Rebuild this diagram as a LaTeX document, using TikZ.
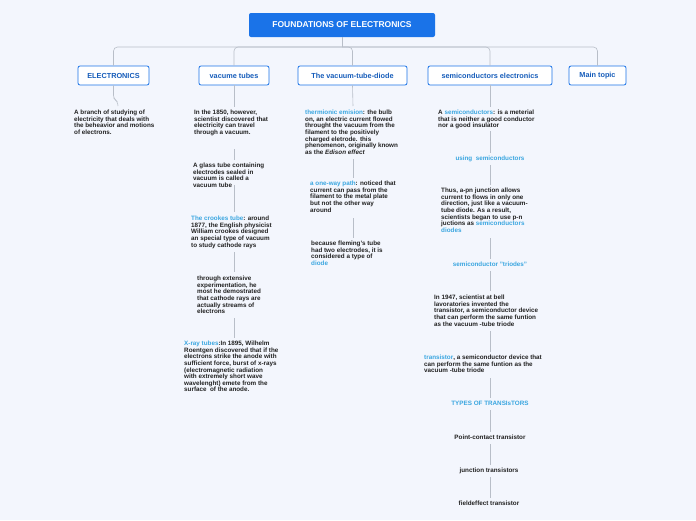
\documentclass[tikz,border=0pt]{standalone}
\usepackage{fontspec}
\setmainfont{Liberation Sans}[BoldFont={Liberation Sans Bold},ItalicFont={Liberation Sans Italic},BoldItalicFont={Liberation Sans Bold Italic}]
\definecolor{bg}{HTML}{F3F6FD}
\definecolor{mblue}{HTML}{1A73E8}
\definecolor{lblue}{HTML}{3AA6E0}
\definecolor{lgray}{HTML}{B8BEC8}
\definecolor{txt}{HTML}{222222}
\begin{document}
\begin{tikzpicture}[x=1pt,y=-1pt,
  top/.style={draw=mblue,fill=white,rounded corners=2pt,line width=0.8pt,minimum height=19pt,font=\fontsize{7.3}{7}\selectfont\bfseries,text=mblue!80!black,inner sep=0pt},
  t/.style={anchor=north west,align=left,inner sep=0pt,font=\fontsize{6.3}{6.6}\selectfont\bfseries,text=txt},
  tc/.style={anchor=north,align=center,inner sep=0pt,font=\fontsize{6.3}{6.6}\selectfont\bfseries,text=txt},
  ln/.style={draw=lgray,line width=0.6pt},
  hl/.style={text=lblue}]
\fill[bg] (0,0) rectangle (696,520);
\useasboundingbox (0,0) rectangle (696,520);
\node[fill=mblue,rounded corners=2pt,minimum width=186pt,minimum height=24pt,text=white,font=\fontsize{8.5}{8}\selectfont\bfseries] (root) at (342,25) {FOUNDATIONS OF ELECTRONICS};
\node[top,minimum width=71pt] (e) at (113.5,75.5) {ELECTRONICS};
\node[top,minimum width=70pt] (v) at (234,75.5) {vacume tubes};
\node[top,minimum width=109pt] (d) at (352.5,75.5) {The vacuum-tube-diode};
\node[top,minimum width=124pt] (s) at (490,75.5) {semiconductors electronics};
\node[top,minimum width=57pt] (m) at (597.5,75.5) {Main topic};
\coordinate (h) at (342,47);
\draw[ln] (root.south) -- (h);
\draw[ln,rounded corners=4pt] (e.north) |- (h) -| (m.north);
\draw[ln,rounded corners=4pt] (v.north) |- (h);
\draw[ln,rounded corners=4pt] (d.north) |- (h);
\draw[ln,rounded corners=4pt] (s.north) |- (h);
% ELECTRONICS
\node[t] (e1) at (74,110) {A branch of studying of\\electricity that deals with\\the beheavior and motions\\of electrons.};
\draw[ln,rounded corners=3pt] (e.south) -- ++(0,13) -- ++(4,3) -- (118,106);
% vacume tubes
\node[t] (v1) at (194,110) {In the 1850, however,\\scientist discovered that\\electricity can travel\\through a vacuum.};
\node[t] (v2) at (193,163) {A glass tube containing\\electrodes sealed in\\vacuum is called a\\vacuum tube};
\node[t] (v3) at (191,216) {{\color{lblue}The crookes tube}: around\\1877, the English physicist\\William crookes designed\\an special type of vacuum\\to study cathode rays};
\node[t] (v4) at (197,276) {through extensive\\experimentation, he\\most he demostrated\\that cathode rays are\\actually streams of\\electrons};
\node[t] (v5) at (184,341) {{\color{lblue}X-ray tubes}:In 1895, Wilhelm\\Roentgen discovered that if the\\electrons strike the anode with\\sufficient force, burst of x-rays\\(electromagnetic radiation\\with extremely short wave\\wavelenght) emete from the\\surface\ \ of the anode.};
\draw[ln] (v.south) -- (234,107);
\draw[ln] (234,149) -- (234,160);
\draw[ln] (234,185) -- (234,212);
\draw[ln] (234,252) -- (234,272);
\draw[ln] (234,318) -- (234,338);
% diode
\node[t] (d1) at (305,110) {{\color{lblue}thermionic emision}: the bulb\\on, an electric current flowed\\throught the vacuum from the\\filament to the positively\\charged eletrode. this\\phenomenon, originally known\\as the \textit{Edison effect}};
\node[t] (d2) at (310,181) {{\color{lblue}a one-way path}: noticed that\\current can pass from the\\filament to the metal plate\\but not the other way\\around};
\node[t] (d3) at (311,241) {because fleming's tube\\had two electrodes, it is\\considered a type of\\{\color{lblue}diode}};
\draw[ln] (d.south) -- (353,106);
\draw[ln] (353,159) -- (353,178);
\draw[ln] (353,218) -- (353,238);
% semiconductors
\node[t] (s1) at (438,110) {A {\color{lblue}semiconductors}: is a meterial\\that is neither a good conductor\\nor a good insulator};
\node[tc,text=lblue] (s2) at (490,156) {using\ \ semiconductors};
\node[t] (s3) at (441,188) {Thus, a-pn junction allows\\current to flows in only one\\direction, just like a vacuum-\\tube diode. As a result,\\scientists began to use p-n\\juctions as {\color{lblue}semiconductors}\\{\color{lblue}diodes}};
\node[tc,text=lblue] (s4) at (490,262) {semiconductor ''triodes''};
\node[t] (s5) at (434,295) {In 1947, scientist at bell\\lavoratories invented the\\transistor, a semiconductor device\\that can perform the same funtion\\as the vacuum -tube triode};
\node[t] (s6) at (424,355) {{\color{lblue}transistor}, a semiconductor device that\\can perform the same funtion as the\\vacuum -tube triode};
\node[tc,text=lblue] (s7) at (490,401) {TYPES OF TRANSIsTORS};
\node[tc] (s8) at (490,435) {Point-contact transistor};
\node[tc] (s9) at (489,468) {junction transistors};
\node[tc] (s10) at (489,501) {fieldeffect transistor};
\draw[ln] (s.south) -- (490,107);
\draw[ln] (490,131) -- (490,153);
\draw[ln] (490,165) -- (490,185);
\draw[ln] (490,238) -- (490,259);
\draw[ln] (490,271) -- (490,291);
\draw[ln] (490,331) -- (490,352);
\draw[ln] (490,378) -- (490,398);
\draw[ln] (490,410) -- (490,432);
\draw[ln] (490,444) -- (490,465);
\draw[ln] (490,477) -- (490,498);
\end{tikzpicture}
\end{document}
